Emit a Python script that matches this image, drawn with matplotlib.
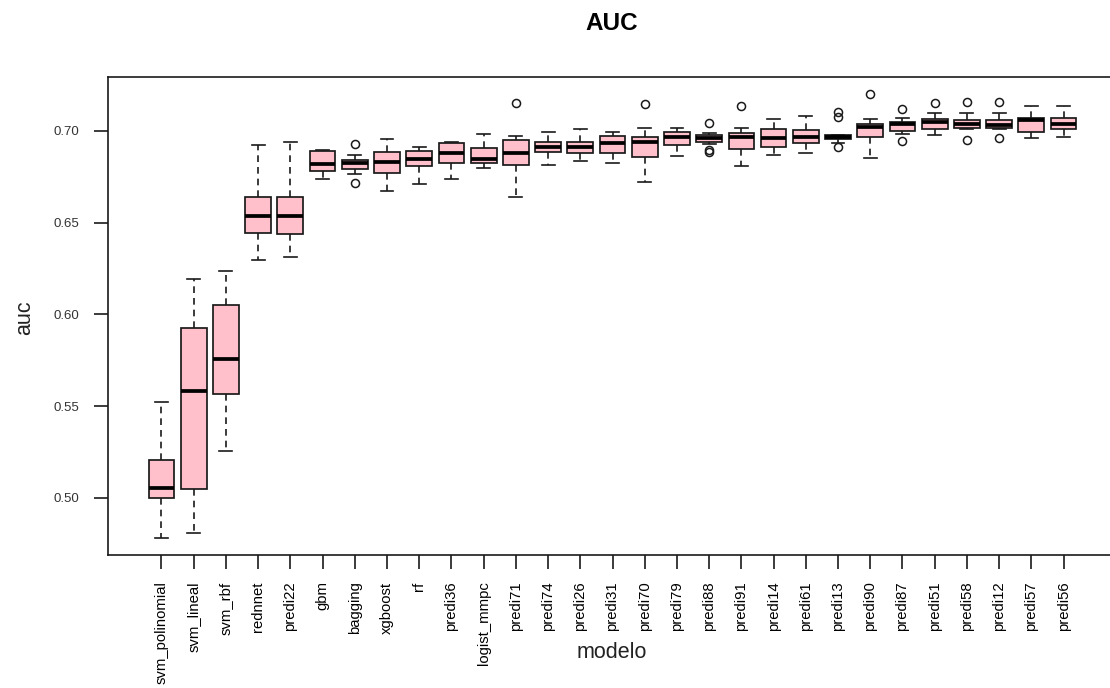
import matplotlib
matplotlib.use("Agg")
import matplotlib.pyplot as plt

plt.rcParams['font.family'] = ['Liberation Sans', 'DejaVu Sans']

# values: whisker low, Q1, median, Q3, whisker high, outliers
modelos = ["svm_polinomial", "svm_lineal", "svm_rbf", "rednnet", "predi22", "gbm",
           "bagging", "xgboost", "rf", "predi36", "logist_mmpc", "predi71", "predi74",
           "predi26", "predi31", "predi70", "predi79", "predi88", "predi91", "predi14",
           "predi61", "predi13", "predi90", "predi87", "predi51", "predi58", "predi12",
           "predi57", "predi56"]
whis_lo = [0.4782, 0.4809, 0.5256, 0.6297, 0.6315, 0.6738, 0.6764, 0.6675, 0.6713, 0.6740,
           0.6800, 0.6642, 0.6816, 0.6835, 0.6827, 0.6720, 0.6862, 0.6930, 0.6808, 0.6869,
           0.6878, 0.6933, 0.6851, 0.6984, 0.6978, 0.7013, 0.7010, 0.6960, 0.6969]
q1 = [0.5000, 0.5049, 0.5567, 0.6446, 0.6437, 0.6782, 0.6791, 0.6773, 0.6808, 0.6824,
      0.6824, 0.6816, 0.6887, 0.6878, 0.6878, 0.6860, 0.6922, 0.6942, 0.6904, 0.6913,
      0.6933, 0.6955, 0.6966, 0.7002, 0.7009, 0.7015, 0.7015, 0.6996, 0.7009]
medianas = [0.5054, 0.5583, 0.5757, 0.6535, 0.6535, 0.6818, 0.6826, 0.6829, 0.6849, 0.6878,
            0.6847, 0.6882, 0.6915, 0.6911, 0.6933, 0.6942, 0.6966, 0.6960, 0.6969, 0.6960,
            0.6969, 0.6966, 0.7020, 0.7036, 0.7051, 0.7036, 0.7033, 0.7062, 0.7036]
q3 = [0.5207, 0.5926, 0.6052, 0.6642, 0.6642, 0.6889, 0.6842, 0.6887, 0.6889, 0.6933,
      0.6906, 0.6949, 0.6942, 0.6942, 0.6975, 0.6966, 0.6993, 0.6978, 0.6987, 0.7009,
      0.7005, 0.6978, 0.7038, 0.7047, 0.7065, 0.7060, 0.7060, 0.7069, 0.7073]
whis_hi = [0.5523, 0.6193, 0.6237, 0.6922, 0.6942, 0.6896, 0.6869, 0.6956, 0.6913, 0.6942,
           0.6984, 0.6975, 0.6993, 0.7011, 0.6993, 0.7018, 0.7018, 0.6991, 0.7018, 0.7064,
           0.7082, 0.6978, 0.7064, 0.7073, 0.7096, 0.7096, 0.7096, 0.7138, 0.7138]
atipicos = [[], [], [], [], [], [], [0.6929, 0.6715], [], [], [],
            [], [0.7154], [], [], [], [0.7147], [], [0.7045, 0.6896, 0.6884], [0.7138], [],
            [], [0.7105, 0.7075, 0.6911], [0.7200], [0.7120, 0.6946], [0.7151],
            [0.7160, 0.6951], [0.7160, 0.6960], [], []]

stats = []
for i, m in enumerate(modelos):
    stats.append({"label": m, "whislo": whis_lo[i], "q1": q1[i], "med": medianas[i],
                  "q3": q3[i], "whishi": whis_hi[i], "fliers": atipicos[i]})

fig = plt.figure(figsize=(11.1, 6.88), dpi=100)
W, H = 1110, 688
# right side of the box runs past the edge of the picture, as in the reference
ax = fig.add_axes([108 / W, (H - 555) / H, 1020 / W, (555 - 77) / H])

linea = "#1a1a1a"
ax.bxp(stats, positions=range(1, len(modelos) + 1), widths=0.8, capwidths=0.4,
       patch_artist=True,
       boxprops=dict(facecolor="#FFC0CB", edgecolor=linea, linewidth=1.25),
       medianprops=dict(color="black", linewidth=2.7, solid_capstyle="butt"),
       whiskerprops=dict(color=linea, linewidth=1.2, linestyle=(0, (4, 3))),
       capprops=dict(color=linea, linewidth=1.2),
       flierprops=dict(marker="o", markerfacecolor="none", markeredgecolor=linea,
                       markersize=5.8, markeredgewidth=1.1))

ax.set_xlim(-0.66, 31.0)
ax.set_ylim(0.4689, 0.7294)
ax.set_yticks([0.50, 0.55, 0.60, 0.65, 0.70])
ax.set_yticklabels(["0.50", "0.55", "0.60", "0.65", "0.70"], fontsize=9.5, color="#333333")
ax.set_xticks(range(1, len(modelos) + 1))
ax.set_xticklabels(modelos, rotation=90, fontsize=10.7, va="top", ha="center")
ax.tick_params(direction="out", length=10, width=1.2, color=linea)
ax.tick_params(axis="y", pad=11)
ax.tick_params(axis="x", pad=9)
for s in ["left", "bottom", "top", "right"]:
    ax.spines[s].set_color(linea)
    ax.spines[s].set_linewidth(1.2)

fig.text(612 / W, 1 - 24 / H, "AUC", fontsize=17.5, fontweight="bold", ha="center", va="center")
fig.text(612 / W, 1 - 653 / H, "modelo", fontsize=15.5, ha="center", va="center", color="#222222")
fig.text(25 / W, 1 - 318 / H, "auc", fontsize=15.5, rotation=90, ha="center", va="center", color="#222222")

fig.savefig("out.png", dpi=100)
